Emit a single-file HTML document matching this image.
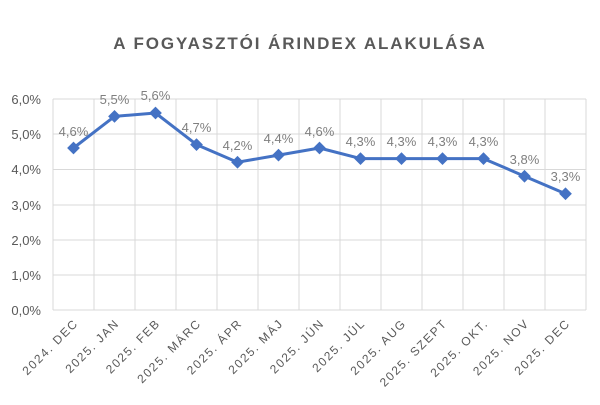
<!DOCTYPE html>
<html><head><meta charset="utf-8"><style>body{margin:0;background:#fff}</style></head><body>
<svg width="600" height="400" xmlns="http://www.w3.org/2000/svg" font-family="Liberation Sans, sans-serif">
<rect width="600" height="400" fill="#fff"/>
<text x="300" y="49" text-anchor="middle" font-size="17" font-weight="bold" fill="#595959" letter-spacing="1.9">A FOGYASZTÓI ÁRINDEX ALAKULÁSA</text>
<g stroke="#d9d9d9" stroke-width="1">
<line x1="53" y1="99" x2="586" y2="99"/><line x1="53" y1="134" x2="586" y2="134"/><line x1="53" y1="169.5" x2="586" y2="169.5"/><line x1="53" y1="205" x2="586" y2="205"/><line x1="53" y1="240" x2="586" y2="240"/><line x1="53" y1="275" x2="586" y2="275"/><line x1="53" y1="310" x2="586" y2="310"/>
<line x1="53" y1="99" x2="53" y2="310"/><line x1="94" y1="99" x2="94" y2="310"/><line x1="135" y1="99" x2="135" y2="310"/><line x1="176" y1="99" x2="176" y2="310"/><line x1="217" y1="99" x2="217" y2="310"/><line x1="258" y1="99" x2="258" y2="310"/><line x1="299" y1="99" x2="299" y2="310"/><line x1="340" y1="99" x2="340" y2="310"/><line x1="381" y1="99" x2="381" y2="310"/><line x1="422" y1="99" x2="422" y2="310"/><line x1="463" y1="99" x2="463" y2="310"/><line x1="504" y1="99" x2="504" y2="310"/><line x1="545" y1="99" x2="545" y2="310"/><line x1="586" y1="99" x2="586" y2="310"/>
</g>
<g font-size="13" fill="#595959" text-anchor="end">
<text x="41" y="104">6,0%</text><text x="41" y="139">5,0%</text><text x="41" y="174">4,0%</text><text x="41" y="210">3,0%</text><text x="41" y="245">2,0%</text><text x="41" y="280">1,0%</text><text x="41" y="315">0,0%</text>
</g>
<polyline fill="none" stroke="#4472c4" stroke-width="3" stroke-linejoin="round" points="73.5,148 114.5,116.4 155.5,113 196.5,144.6 237.5,162.2 278.5,155.1 319.5,148 360.5,158.6 401.5,158.6 442.5,158.6 483.5,158.6 524.5,176.2 565.5,193.8"/>
<g fill="#4472c4">
<rect x="-4.5" y="-4.5" width="9" height="9" transform="translate(73.5,148) rotate(45)"/>
<rect x="-4.5" y="-4.5" width="9" height="9" transform="translate(114.5,116.4) rotate(45)"/>
<rect x="-4.5" y="-4.5" width="9" height="9" transform="translate(155.5,113) rotate(45)"/>
<rect x="-4.5" y="-4.5" width="9" height="9" transform="translate(196.5,144.6) rotate(45)"/>
<rect x="-4.5" y="-4.5" width="9" height="9" transform="translate(237.5,162.2) rotate(45)"/>
<rect x="-4.5" y="-4.5" width="9" height="9" transform="translate(278.5,155.1) rotate(45)"/>
<rect x="-4.5" y="-4.5" width="9" height="9" transform="translate(319.5,148) rotate(45)"/>
<rect x="-4.5" y="-4.5" width="9" height="9" transform="translate(360.5,158.6) rotate(45)"/>
<rect x="-4.5" y="-4.5" width="9" height="9" transform="translate(401.5,158.6) rotate(45)"/>
<rect x="-4.5" y="-4.5" width="9" height="9" transform="translate(442.5,158.6) rotate(45)"/>
<rect x="-4.5" y="-4.5" width="9" height="9" transform="translate(483.5,158.6) rotate(45)"/>
<rect x="-4.5" y="-4.5" width="9" height="9" transform="translate(524.5,176.2) rotate(45)"/>
<rect x="-4.5" y="-4.5" width="9" height="9" transform="translate(565.5,193.8) rotate(45)"/>
</g>
<g font-size="13" fill="#7f7f7f" text-anchor="middle">
<text x="73.5" y="136">4,6%</text><text x="114.5" y="104">5,5%</text><text x="155.5" y="100">5,6%</text><text x="196.5" y="132">4,7%</text><text x="237.5" y="150">4,2%</text><text x="278.5" y="143">4,4%</text><text x="319.5" y="136">4,6%</text><text x="360.5" y="146">4,3%</text><text x="401.5" y="146">4,3%</text><text x="442.5" y="146">4,3%</text><text x="483.5" y="146">4,3%</text><text x="524.5" y="164">3,8%</text><text x="565.5" y="181">3,3%</text>
</g>
<g font-size="12" fill="#595959" text-anchor="end" letter-spacing="1.6">
<text transform="translate(79,324) rotate(-45)">2024. DEC</text>
<text transform="translate(120,324) rotate(-45)">2025. JAN</text>
<text transform="translate(161,324) rotate(-45)">2025. FEB</text>
<text transform="translate(202,324) rotate(-45)">2025. MÁRC</text>
<text transform="translate(243,324) rotate(-45)">2025. ÁPR</text>
<text transform="translate(284,324) rotate(-45)">2025. MÁJ</text>
<text transform="translate(325,324) rotate(-45)">2025. JÚN</text>
<text transform="translate(366,324) rotate(-45)">2025. JÚL</text>
<text transform="translate(407,324) rotate(-45)">2025. AUG</text>
<text transform="translate(448,324) rotate(-45)">2025. SZEPT</text>
<text transform="translate(489,324) rotate(-45)">2025. OKT.</text>
<text transform="translate(530,324) rotate(-45)">2025. NOV</text>
<text transform="translate(571,324) rotate(-45)">2025. DEC</text>
</g>
</svg>
</body></html>
